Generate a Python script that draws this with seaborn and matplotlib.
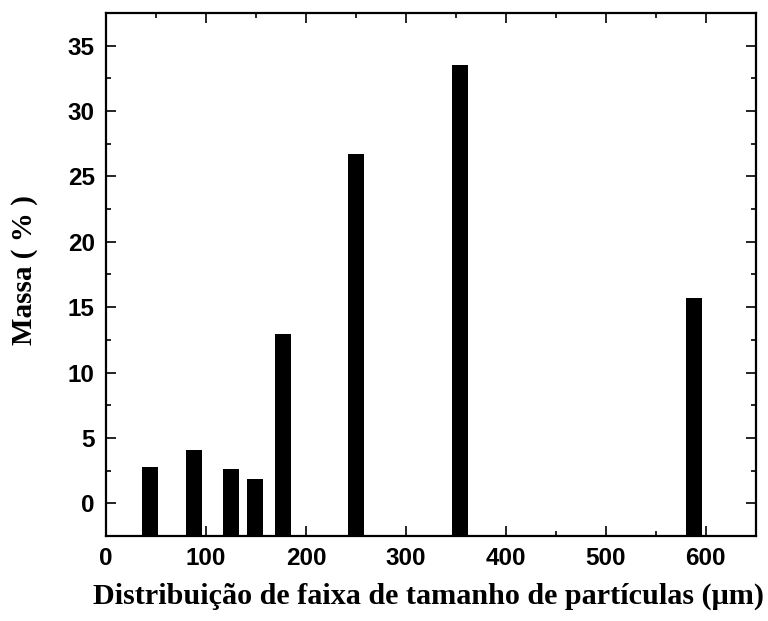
import matplotlib
matplotlib.use("Agg")
import matplotlib.pyplot as plt
from matplotlib.ticker import MultipleLocator
import seaborn as sns
import pandas as pd

# Sieve openings (µm) and retained mass fraction (%)
particle_size = [44, 88, 125, 149, 177, 250, 354, 588]
mass_pct = [2.76, 4.04, 2.60, 1.87, 12.93, 26.72, 33.54, 15.69]

x_ticks = [0, 100, 200, 300, 400, 500, 600]
y_ticks = [0, 5, 10, 15, 20, 25, 30, 35]

x_label = "Distribuição de faixa de tamanho de partículas (μm)"
y_label = "Massa ( % )"

df = pd.DataFrame({"size": particle_size, "mass": mass_pct})

sns.set_theme(style="ticks")
plt.rcParams["font.family"] = ["Liberation Sans", "DejaVu Sans"]
plt.rcParams["text.color"] = "black"
plt.rcParams["axes.labelcolor"] = "black"
plt.rcParams["xtick.color"] = "black"
plt.rcParams["ytick.color"] = "black"

fig = plt.figure(figsize=(7.68, 6.21), dpi=100)
ax = fig.add_axes([0.138, 0.137, 0.846, 0.842])

ymin, ymax = -2.5, 37.5

sns.barplot(data=df, x="size", y="mass", native_scale=True, width=16 / 24,
            color="black", saturation=1, edgecolor="black", linewidth=0,
            errorbar=None, ax=ax)

# Bars rise from the lower frame edge rather than from zero
for patch in ax.patches:
    top = patch.get_y() + patch.get_height()
    patch.set_y(ymin)
    patch.set_height(top - ymin)

ax.set_xlim(0, 650)
ax.set_ylim(ymin, ymax)
ax.set_xticks(x_ticks)
ax.set_yticks(y_ticks)
ax.xaxis.set_minor_locator(MultipleLocator(50))
ax.yaxis.set_minor_locator(MultipleLocator(2.5))

ax.tick_params(which="both", direction="in", top=True, right=True,
               width=1.2, color="black", labelcolor="black")
ax.tick_params(which="major", length=7.5, pad=8)
ax.tick_params(which="minor", length=3.5)

for lab in ax.get_xticklabels() + ax.get_yticklabels():
    lab.set_fontsize(17.5)
    lab.set_fontweight("bold")
    lab.set_family(["Liberation Sans", "DejaVu Sans"])

for sp in ax.spines.values():
    sp.set_linewidth(1.6)
    sp.set_color("black")

ax.set_xlabel(x_label, fontsize=21.7, fontweight="bold", color="black",
              family=["Liberation Serif", "DejaVu Serif"])
ax.set_ylabel(y_label, fontsize=21, fontweight="bold", color="black",
              family=["Liberation Serif", "DejaVu Serif"])
ax.xaxis.set_label_coords(0.497, -0.09)
ax.yaxis.set_label_coords(-0.125, 0.509)
ax.yaxis.label.set_verticalalignment("center")

fig.savefig("out.png", dpi=100)
